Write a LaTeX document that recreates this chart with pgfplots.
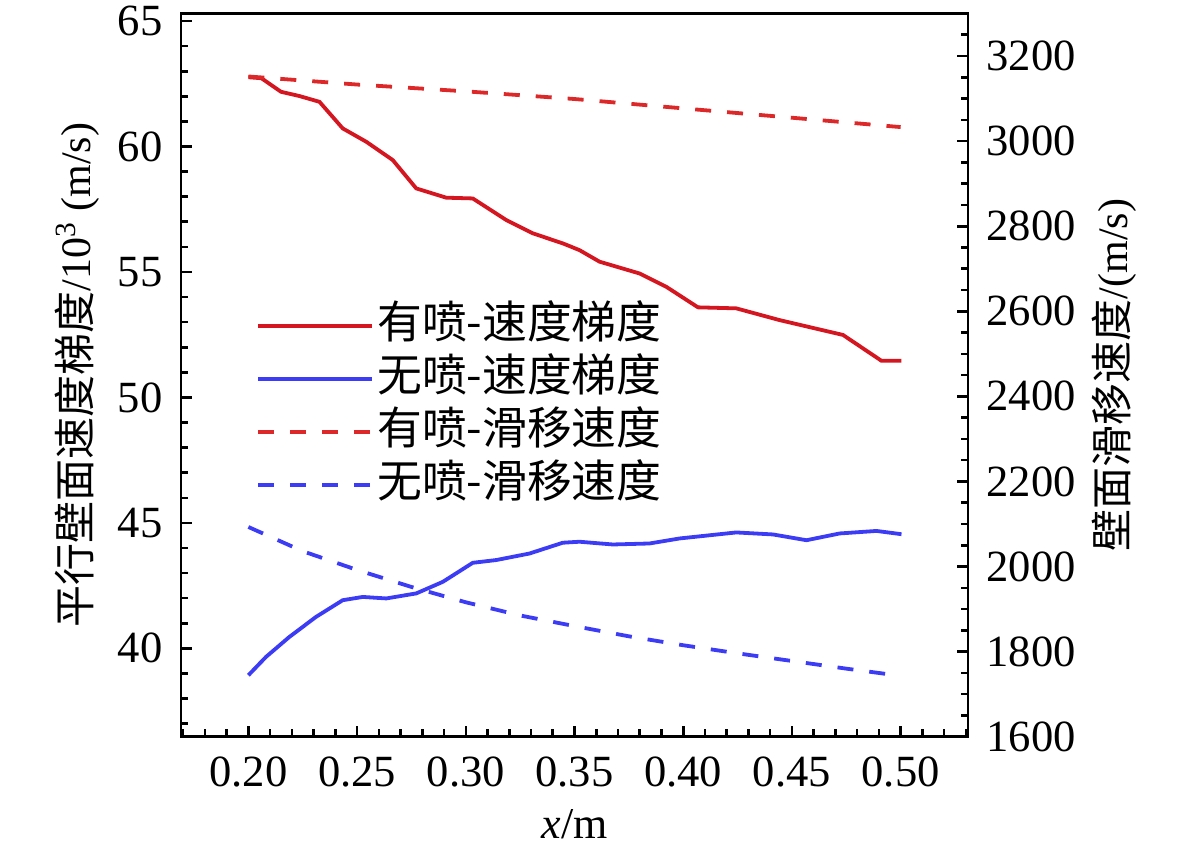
\documentclass[border=0pt]{standalone}
\usepackage{pgfplots}
\pgfplotsset{compat=1.18}
\usepackage{fontspec}
\setmainfont{Liberation Serif}
\newfontfamily\cjk{Noto Sans CJK SC}
\definecolor{redc}{RGB}{212,22,32}
\definecolor{redd}{RGB}{220,40,40}
\definecolor{bluec}{RGB}{60,60,245}
\begin{document}
\fontsize{21}{25}\selectfont
\begin{tikzpicture}
\useasboundingbox (-90.5pt,-57.65pt) rectangle (500pt,368.35pt);
\pgfplotsset{
  common/.style={
    scale only axis, width=393.5pt, height=361.6pt,
    xmin=0.169, xmax=0.531,
    tick align=inside,
    major tick length=5.3pt, minor tick length=3.7pt,
    axis line style={line width=1.3pt},
    every tick/.style={line width=1.3pt, black},
    /pgf/number format/assume math mode=true,
    ticklabel style={font=\fontsize{22.3}{26}\selectfont},
  }
}
\begin{axis}[common, name=ax,
  ymin=36.48, ymax=65.3,
  xtick={0.20,0.25,0.30,0.35,0.40,0.45,0.50},
  minor xtick={0.17,0.18,0.19,0.21,0.22,0.23,0.24,0.26,0.27,0.28,0.29,0.31,0.32,0.33,0.34,0.36,0.37,0.38,0.39,0.41,0.42,0.43,0.44,0.46,0.47,0.48,0.49,0.51,0.52,0.53},
  ytick={40,45,50,55,60,65},
  minor ytick={37,38,39,41,42,43,44,46,47,48,49,51,52,53,54,56,57,58,59,61,62,63,64},
  xtick pos=bottom, ytick pos=left,
  xticklabel style={/pgf/number format/.cd, fixed, fixed zerofill, precision=2, /tikz/.cd, yshift=-3pt},
  yticklabel style={xshift=-2pt},
  xlabel={\textit{x}/m},
  xlabel style={at={(axis description cs:0.5,0)}, anchor=center, yshift=-44pt, font=\fontsize{22}{26}\selectfont},
  ylabel={{\cjk 平行壁面速度梯度}/10\textsuperscript{3} (m/s)},
  ylabel style={at={(axis description cs:-0.132,0.5)}, anchor=center},
]
\addplot[redc, line width=1.9pt] coordinates {
(0.200,62.76) (0.206,62.72) (0.215,62.18) (0.2235,62.01) (0.2327,61.78)
(0.2434,60.72) (0.2542,60.19) (0.2664,59.46) (0.2772,58.33) (0.291,57.96)
(0.3032,57.93) (0.3186,57.07) (0.3308,56.54) (0.3446,56.14) (0.3523,55.87)
(0.3615,55.41) (0.3799,54.94) (0.3922,54.41) (0.4068,53.59) (0.4244,53.55)
(0.4444,53.08) (0.4735,52.49) (0.4912,51.46) (0.5004,51.46)
};
\addplot[bluec, line width=1.9pt] coordinates {
(0.200,38.93) (0.2081,39.66) (0.2189,40.46) (0.2312,41.26) (0.2434,41.92)
(0.2526,42.05) (0.2634,41.99) (0.2772,42.19) (0.2894,42.65) (0.3032,43.41)
(0.314,43.52) (0.3293,43.78) (0.3446,44.21) (0.3523,44.25) (0.3676,44.14)
(0.3845,44.18) (0.3983,44.38) (0.4244,44.62) (0.4413,44.54) (0.4567,44.31)
(0.472,44.58) (0.4889,44.68) (0.5004,44.55)
};
\end{axis}
\begin{axis}[common,
  ymin=1600, ymax=3300,
  axis x line=none, axis y line*=right,
  ytick={1600,1800,2000,2200,2400,2600,2800,3000,3200},
  minor ytick={1650,1700,1750,1850,1900,1950,2050,2100,2150,2250,2300,2350,2450,2500,2550,2650,2700,2750,2850,2900,2950,3050,3100,3150,3250,3300},
  ytick pos=right,
  yticklabel style={/pgf/number format/1000 sep={}, xshift=2pt},
  ylabel={{\cjk 壁面滑移速度}/(m/s)},
  ylabel style={at={(axis description cs:1.1855,0.5)}, anchor=center},
  legend style={at={(axis description cs:0.0953,0.603)}, anchor=north west,
    draw=none, fill=none, inner sep=0pt, row sep=1.5pt,
    font=\fontsize{22.4}{26}\selectfont,
    nodes={inner sep=1.5pt, text height=17pt, text depth=5pt}},
  legend cell align=left,
  legend image code/.code={\draw[#1] (0pt,0pt) -- (57pt,0pt);},
]
\addlegendimage{redc, line width=1.9pt}
\addlegendimage{bluec, line width=1.9pt}
\addplot[redd, line width=1.9pt, dash pattern=on 8pt off 8pt] coordinates {
(0.20,3152) (0.25,3133) (0.30,3117) (0.35,3099) (0.40,3077) (0.45,3055) (0.50,3033)
};
\addplot[bluec, line width=1.9pt, dash pattern=on 8pt off 8pt] coordinates {
(0.20,2093) (0.225,2036) (0.25,1992) (0.275,1952) (0.30,1916) (0.325,1885)
(0.35,1860) (0.375,1836) (0.40,1815) (0.425,1796) (0.45,1778) (0.475,1760) (0.50,1743)
};
\legend{{\cjk 有喷-速度梯度},{\cjk 无喷-速度梯度},{\cjk 有喷-滑移速度},{\cjk 无喷-滑移速度}}
\end{axis}
\end{tikzpicture}
\end{document}
